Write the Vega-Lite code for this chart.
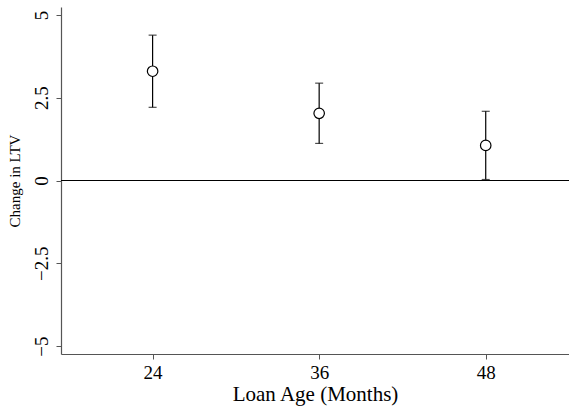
{
  "$schema": "https://vega.github.io/schema/vega-lite/v6.json",
  "width": 508,
  "height": 347,
  "autosize": {"type": "none"},
  "padding": {"left": 61, "top": 7, "right": 0, "bottom": 57},
  "background": "white",
  "config": {
    "view": {"stroke": null},
    "font": "Liberation Serif",
    "axis": {"labelFont": "Liberation Serif", "titleFont": "Liberation Serif"}
  },
  "data": {
    "values": [
      {"age": 24, "est": 3.3, "lo": 2.21, "hi": 4.39},
      {"age": 36, "est": 2.03, "lo": 1.12, "hi": 2.94},
      {"age": 48, "est": 1.06, "lo": 0.03, "hi": 2.09}
    ]
  },
  "layer": [
    {
      "mark": {"type": "rule", "color": "black", "strokeWidth": 1},
      "encoding": {"y": {"datum": 0, "type": "quantitative"}}
    },
    {
      "mark": {"type": "rule", "color": "black", "strokeWidth": 1.2},
      "encoding": {
        "x": {
          "field": "age", "type": "quantitative",
          "scale": {"domain": [17.4, 54], "nice": false, "zero": false},
          "axis": {
            "values": [24, 36, 48],
            "title": "Loan Age (Months)",
            "titleFontSize": 21, "titleFontWeight": "normal", "titleColor": "black",
            "titlePadding": 1,
            "labelFontSize": 19, "labelColor": "black", "labelPadding": 4,
            "grid": false, "domainColor": "#555", "tickColor": "#555",
            "tickSize": 5, "domainWidth": 1.2
          }
        },
        "y": {
          "field": "lo", "type": "quantitative",
          "scale": {"domain": [-5.24, 5.24], "nice": false},
          "axis": {
            "values": [-5, -2.5, 0, 2.5, 5],
            "labelExpr": "replace(format(datum.value, '.1~f'), '-', '\u2212')",
            "title": "Change in LTV",
            "titleFontSize": 15, "titleFontWeight": "normal", "titleColor": "black",
            "titlePadding": 10,
            "labelFontSize": 19, "labelColor": "black", "labelAngle": -90,
            "labelAlign": "center", "labelBaseline": "bottom", "labelPadding": 5,
            "grid": false, "domainColor": "#555", "tickColor": "#555",
            "tickSize": 5, "domainWidth": 1.2
          }
        },
        "y2": {"field": "hi"}
      }
    },
    {
      "mark": {"type": "tick", "orient": "horizontal", "color": "black", "size": 8, "thickness": 1.2},
      "encoding": {
        "x": {"field": "age", "type": "quantitative"},
        "y": {"field": "lo", "type": "quantitative"}
      }
    },
    {
      "mark": {"type": "tick", "orient": "horizontal", "color": "black", "size": 8, "thickness": 1.2},
      "encoding": {
        "x": {"field": "age", "type": "quantitative"},
        "y": {"field": "hi", "type": "quantitative"}
      }
    },
    {
      "mark": {"type": "point", "shape": "circle", "size": 110, "filled": true, "fill": "white", "stroke": "black", "strokeWidth": 1.2, "opacity": 1},
      "encoding": {
        "x": {"field": "age", "type": "quantitative"},
        "y": {"field": "est", "type": "quantitative"}
      }
    }
  ]
}
